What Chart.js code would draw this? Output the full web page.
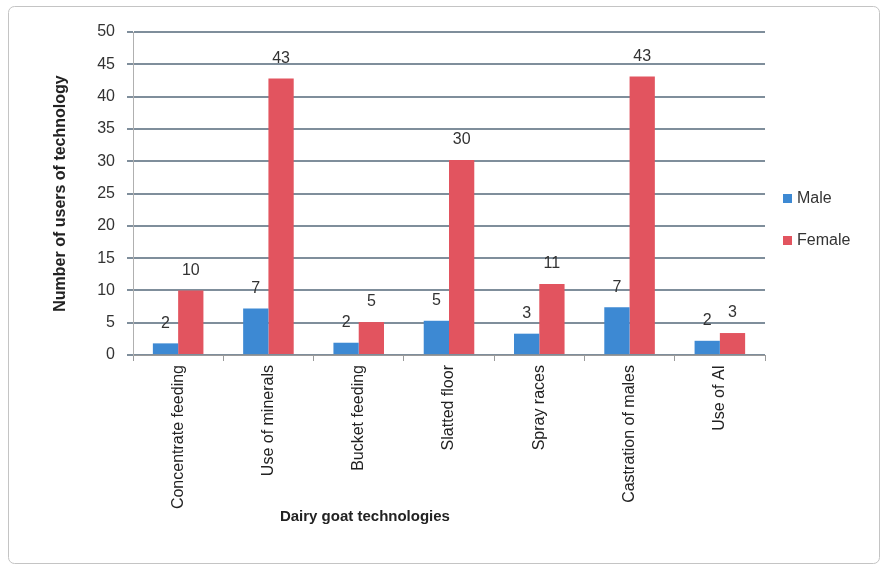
<!DOCTYPE html>
<html><head><meta charset="utf-8">
<script src="https://cdn.jsdelivr.net/npm/chart.js@4/dist/chart.umd.min.js"></script>
<style>html,body{margin:0;padding:0;background:#fff}#wrap{width:886px;height:569px;position:relative}</style>
</head><body><div id="wrap"><canvas id="c" width="886" height="569"></canvas></div>
<script>
const categories = ["Concentrate feeding","Use of minerals","Bucket feeding","Slatted floor","Spray races","Castration of males","Use of AI"];
const maleValues = [1.8, 7.2, 1.9, 5.3, 3.3, 7.4, 2.2];
const femaleValues = [10.0, 42.8, 5.1, 30.2, 11.0, 43.1, 3.4];
const seriesNames = ["Male", "Female"];
const seriesColors = ["#3d89d3", "#e2545f"];
const yMin = 0, yMax = 50, yStep = 5;
const yTitle = "Number of users of technology";
const xTitle = "Dairy goat technologies";
const FONT = "'Liberation Sans', Arial, sans-serif";

const frame = {
  id: 'frame',
  beforeDraw(chart) {
    const ctx = chart.ctx;
    ctx.save();
    ctx.fillStyle = '#fff';
    ctx.fillRect(0, 0, chart.width, chart.height);
    ctx.strokeStyle = '#c4c4c4';
    ctx.lineWidth = 1;
    ctx.beginPath();
    ctx.roundRect(8.5, 6.5, 871, 557, 6);
    ctx.stroke();
    ctx.restore();
  }
};

const valueLabels = {
  id: 'valueLabels',
  afterDatasetsDraw(chart) {
    const ctx = chart.ctx;
    ctx.save();
    ctx.font = "16px " + FONT;
    ctx.fillStyle = '#333';
    ctx.textAlign = 'center';
    ctx.textBaseline = 'middle';
    chart.data.datasets.forEach((ds, i) => {
      chart.getDatasetMeta(i).data.forEach((el, j) => {
        ctx.fillText(String(Math.round(ds.data[j])), el.x, el.y - 20);
      });
    });
    ctx.restore();
  }
};

const extras = {
  id: 'extras',
  afterDraw(chart) {
    const ctx = chart.ctx, a = chart.chartArea;
    ctx.save();
    ctx.font = "bold 15px " + FONT;
    ctx.fillStyle = '#222';
    ctx.textAlign = 'center';
    ctx.textBaseline = 'middle';
    ctx.fillText(xTitle, a.left + (a.right - a.left) * 0.367, 517);
    ctx.font = "16px " + FONT;
    ctx.textAlign = 'left';
    seriesNames.forEach((n, i) => {
      const y = a.top + 167 + i * 42;
      ctx.fillStyle = seriesColors[i];
      ctx.fillRect(a.right + 18, y - 5, 9, 9);
      ctx.fillStyle = '#333';
      ctx.fillText(n, a.right + 32, y);
    });
    ctx.restore();
  }
};

new Chart(document.getElementById('c'), {
  type: 'bar',
  data: {
    labels: categories,
    datasets: [
      { label: seriesNames[0], data: maleValues, backgroundColor: seriesColors[0], barPercentage: 1.0, categoryPercentage: 0.56 },
      { label: seriesNames[1], data: femaleValues, backgroundColor: seriesColors[1], barPercentage: 1.0, categoryPercentage: 0.56 }
    ]
  },
  options: {
    responsive: false,
    animation: false,
    layout: { padding: { top: 32, left: 42, right: 121, bottom: 0 } },
    plugins: { legend: { display: false }, tooltip: { enabled: false } },
    scales: {
      x: {
        grid: { display: true, drawOnChartArea: false, drawTicks: true, tickLength: 6, color: '#9a9a9a', offset: true },
        border: { color: '#9a9a9a' },
        ticks: { minRotation: 90, maxRotation: 90, autoSkip: false, color: '#222', padding: 4, font: { size: 16, family: FONT } },
        afterFit(s) { s.height = 214; }
      },
      y: {
        min: yMin, max: yMax,
        ticks: { stepSize: yStep, color: '#333', padding: 12, font: { size: 16, family: FONT } },
        grid: { color: '#7f8e9b', lineWidth: 2, tickLength: 6 },
        border: { color: '#b0b0b0', width: 1 },
        title: { display: true, text: yTitle, color: '#222', padding: { top: 9, bottom: 0 }, font: { size: 16, weight: 'bold', family: FONT } },
        afterFit(s) { s.width = 91; }
      }
    }
  },
  plugins: [frame, valueLabels, extras]
});
</script></body></html>
